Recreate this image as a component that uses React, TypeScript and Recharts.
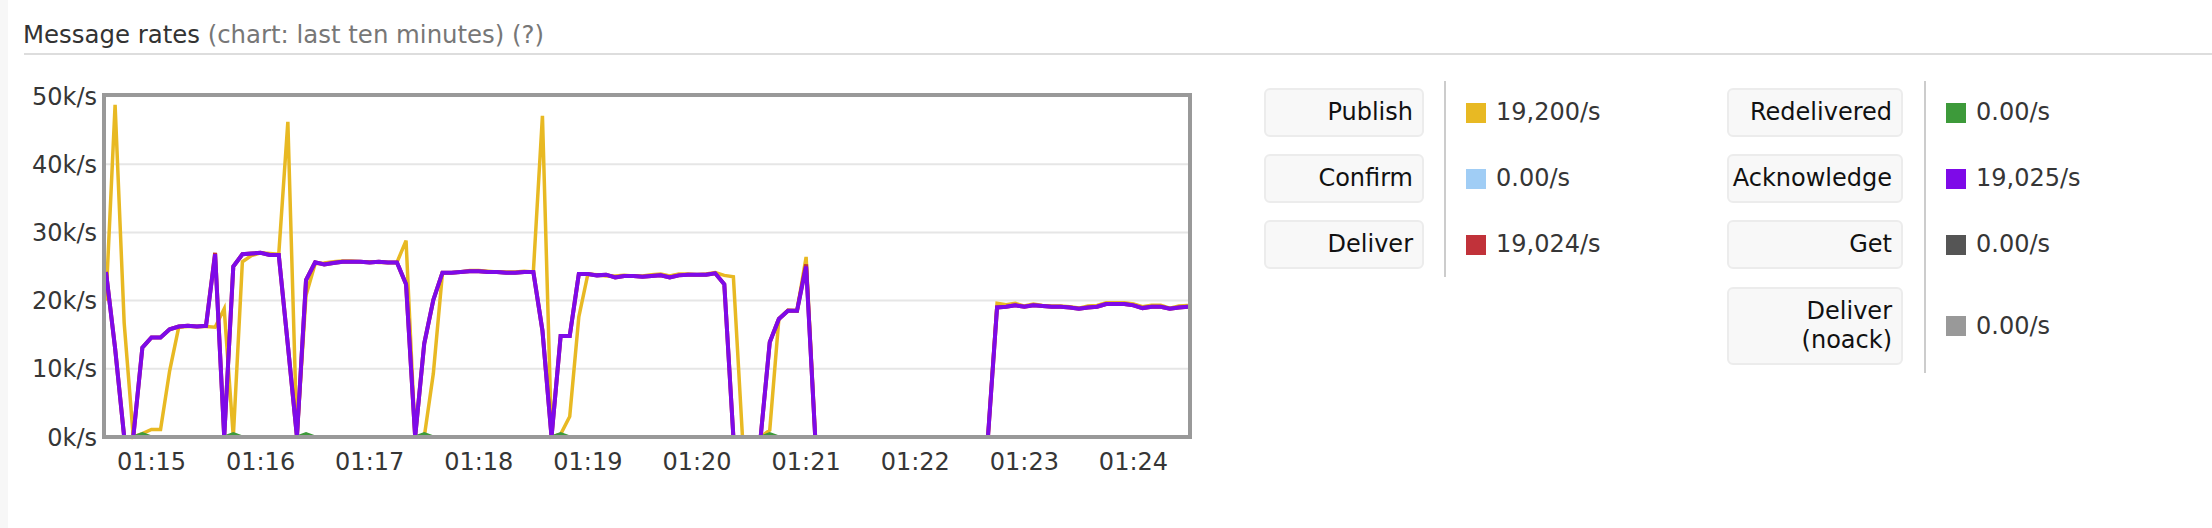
import { LineChart, Line, XAxis, YAxis, CartesianGrid } from 'recharts'

const FONT = '"DejaVu Sans", Verdana, sans-serif'

// sample times are seconds past 01:00, one sample every 5s (last ten minutes)
const START_SEC = 875
const STEP_SEC = 5

const xTickSeconds = [900, 960, 1020, 1080, 1140, 1200, 1260, 1320, 1380, 1440]
const xTickLabels = ['01:15', '01:16', '01:17', '01:18', '01:19', '01:20', '01:21', '01:22', '01:23', '01:24']
const yTicks = [0, 10, 20, 30, 40, 50] // k/s

// rates in k/s
const publishRates = [
    20.0, 48.7, 16.7, 0, 0.5, 1.1, 1.1, 9.7, 16.1, 16.2,
    16.2, 16.2, 16.1, 18.8, 0, 25.7, 26.6, 27.0, 26.9, 26.8,
    46.2, 0, 20.8, 25.4, 25.5, 25.7, 25.8, 25.8, 25.7, 25.7,
    25.6, 25.6, 25.6, 28.8, 0, 0, 9.3, 24.0, 24.1, 24.2,
    24.4, 24.4, 24.3, 24.2, 24.2, 24.2, 24.3, 24.2, 47.1, 0,
    0.4, 3.0, 17.6, 23.9, 23.8, 23.6, 23.6, 23.7, 23.6, 23.6,
    23.8, 23.9, 23.6, 23.9, 23.9, 23.8, 23.9, 24.1, 23.7, 23.5,
    0, 0, 0, 1.0, 17.3, 18.6, 18.5, 26.4, 0, 0,
    0, 0, 0, 0, 0, 0, 0, 0, 0, 0,
    0, 0, 0, 0, 0, 0, 0, 0, 19.6, 19.4,
    19.6, 19.2, 19.5, 19.3, 19.2, 19.2, 19.1, 18.9, 19.2, 19.3,
    19.7, 19.7, 19.7, 19.5, 19.1, 19.3, 19.3, 18.9, 19.2, 19.3,
]

const deliverRates = [
    24.2, 13.0, 0, 0, 13.1, 14.6, 14.6, 15.8, 16.2, 16.3,
    16.2, 16.3, 27.0, 0, 25.0, 26.8, 26.9, 27.0, 26.7, 26.7,
    13.5, 0, 23.0, 25.6, 25.3, 25.5, 25.7, 25.7, 25.7, 25.6,
    25.7, 25.6, 25.6, 22.4, 0, 13.7, 20.1, 24.1, 24.1, 24.2,
    24.3, 24.3, 24.2, 24.2, 24.1, 24.1, 24.2, 24.2, 15.6, 0,
    14.8, 14.8, 23.9, 23.9, 23.7, 23.8, 23.4, 23.6, 23.6, 23.5,
    23.6, 23.7, 23.4, 23.7, 23.8, 23.8, 23.8, 24.0, 22.4, 0,
    0, 0, 0, 13.9, 17.3, 18.5, 18.5, 25.3, 0, 0,
    0, 0, 0, 0, 0, 0, 0, 0, 0, 0,
    0, 0, 0, 0, 0, 0, 0, 0, 19.0, 19.1,
    19.3, 19.1, 19.3, 19.2, 19.1, 19.1, 19.0, 18.8, 19.0, 19.1,
    19.5, 19.5, 19.5, 19.3, 18.9, 19.1, 19.1, 18.8, 19.0, 19.1,
]

const ackRates = [
    24.2, 13.0, 0, 0, 13.1, 14.6, 14.6, 15.8, 16.2, 16.3,
    16.2, 16.3, 26.8, 0, 25.0, 26.8, 26.9, 27.0, 26.7, 26.7,
    13.5, 0, 23.0, 25.6, 25.3, 25.5, 25.7, 25.7, 25.7, 25.6,
    25.7, 25.6, 25.6, 22.4, 0, 13.7, 20.1, 24.1, 24.1, 24.2,
    24.3, 24.3, 24.2, 24.2, 24.1, 24.1, 24.2, 24.2, 15.6, 0,
    14.8, 14.8, 23.9, 23.9, 23.7, 23.8, 23.4, 23.6, 23.6, 23.5,
    23.6, 23.7, 23.4, 23.7, 23.8, 23.8, 23.8, 24.0, 22.4, 0,
    0, 0, 0, 13.9, 17.3, 18.5, 18.5, 25.0, 0, 0,
    0, 0, 0, 0, 0, 0, 0, 0, 0, 0,
    0, 0, 0, 0, 0, 0, 0, 0, 19.0, 19.1,
    19.3, 19.1, 19.3, 19.2, 19.1, 19.1, 19.0, 18.8, 19.0, 19.1,
    19.5, 19.5, 19.5, 19.3, 18.9, 19.1, 19.1, 18.8, 19.0, 19.1,
]

const redeliveredRates = [
    0, 0, 0, 0, 0.5, 0, 0, 0, 0, 0,
    0, 0, 0, 0, 0.5, 0, 0, 0, 0, 0,
    0, 0, 0.5, 0, 0, 0, 0, 0, 0, 0,
    0, 0, 0, 0, 0, 0.5, 0, 0, 0, 0,
    0, 0, 0, 0, 0, 0, 0, 0, 0, 0,
    0.5, 0, 0, 0, 0, 0, 0, 0, 0, 0,
    0, 0, 0, 0, 0, 0, 0, 0, 0, 0,
    0, 0, 0, 0.5, 0, 0, 0, 0, 0, 0,
    0, 0, 0, 0, 0, 0, 0, 0, 0, 0,
    0, 0, 0, 0, 0, 0, 0, 0, 0, 0,
    0, 0, 0, 0, 0, 0, 0, 0, 0, 0,
    0, 0, 0, 0, 0, 0, 0, 0, 0, 0,
]

// confirm, get and deliver (noack) stayed at zero the whole time
const idleRates = [
    0, 0, 0, 0, 0, 0, 0, 0, 0, 0, 0, 0, 0, 0, 0, 0, 0, 0, 0, 0,
    0, 0, 0, 0, 0, 0, 0, 0, 0, 0, 0, 0, 0, 0, 0, 0, 0, 0, 0, 0,
    0, 0, 0, 0, 0, 0, 0, 0, 0, 0, 0, 0, 0, 0, 0, 0, 0, 0, 0, 0,
    0, 0, 0, 0, 0, 0, 0, 0, 0, 0, 0, 0, 0, 0, 0, 0, 0, 0, 0, 0,
    0, 0, 0, 0, 0, 0, 0, 0, 0, 0, 0, 0, 0, 0, 0, 0, 0, 0, 0, 0,
    0, 0, 0, 0, 0, 0, 0, 0, 0, 0, 0, 0, 0, 0, 0, 0, 0, 0, 0, 0,
]

const leftNames = ['Publish', 'Confirm', 'Deliver']
const leftValues = ['19,200/s', '0.00/s', '19,024/s']
const leftColors = ['#e8b923', '#a0cdf5', '#c1323a']

const rightNames = ['Redelivered', 'Acknowledge', 'Get', 'Deliver\n(noack)']
const rightValues = ['0.00/s', '19,025/s', '0.00/s', '0.00/s']
const rightColors = ['#3d9a3a', '#7e0ae8', '#555555', '#999999']

const rows = publishRates.map((p, i) => ({
    t: START_SEC + i * STEP_SEC,
    publish: p,
    confirm: idleRates[i],
    deliver: deliverRates[i],
    redelivered: redeliveredRates[i],
    ack: ackRates[i],
    get: idleRates[i],
    noack: idleRates[i],
}))

const tickStyle = { fontFamily: FONT, fontSize: 24, fill: '#363636' }

function LegendColumn({ names, values, colors, left, width, sepLeft, sepHeight, tops, heights }: any) {
    return (
        <>
            {names.map((name: string, i: number) => (
                <div key={name} style={{
                    position: 'absolute', left, top: tops[i], width, height: heights[i],
                    boxSizing: 'border-box', background: '#f8f8f8', border: '2px solid #ececec',
                    borderRadius: 6, display: 'flex', alignItems: 'center', justifyContent: 'flex-end',
                    paddingRight: 9, textAlign: 'right', whiteSpace: 'pre-line',
                    lineHeight: '29px', color: '#111',
                }}>{name}</div>
            ))}
            <div style={{ position: 'absolute', left: sepLeft, top: 81, width: 2, height: sepHeight, background: '#cccccc' }} />
            {values.map((v: string, i: number) => (
                <div key={i}>
                    <div style={{
                        position: 'absolute', left: sepLeft + 22, top: tops[i] + heights[i] / 2 - 10,
                        width: 20, height: 20, background: colors[i],
                    }} />
                    <div style={{
                        position: 'absolute', left: sepLeft + 52, top: tops[i], height: heights[i],
                        lineHeight: `${heights[i]}px`, color: '#363636',
                    }}>{v}</div>
                </div>
            ))}
        </>
    )
}

export default function App() {
    return (
        <div style={{
            position: 'absolute', left: 0, top: 0, width: 2212, height: 528,
            background: '#fff', overflow: 'hidden', fontFamily: FONT, fontSize: 24,
        }}>
            <div style={{ position: 'absolute', left: 0, top: 0, width: 8, height: 528, background: '#f7f7f7' }} />

            <div style={{ position: 'absolute', left: 23, top: 20, lineHeight: '30px', fontSize: 24.4, whiteSpace: 'nowrap', color: '#333' }}>
                Message rates <span style={{ color: '#777' }}>(chart: last ten minutes) (?)</span>
            </div>
            <div style={{ position: 'absolute', left: 24, top: 53, width: 2188, height: 2, background: '#dddddd' }} />

            <div style={{ position: 'absolute', left: 0, top: 0 }}>
                <LineChart width={1230} height={500} data={rows}
                    margin={{ top: 96, right: 42, bottom: 23, left: 0 }}>
                    <CartesianGrid horizontal={true} vertical={false} stroke="#e6e6e6" strokeWidth={2} />
                    <XAxis
                        dataKey="t" type="number" domain={[START_SEC, 1470]}
                        ticks={xTickSeconds} height={40}
                        tickFormatter={(v: number) => xTickLabels[xTickSeconds.indexOf(v)]}
                        axisLine={false} tickLine={false} tickSize={6} tickMargin={10}
                        tick={tickStyle} interval={0}
                    />
                    <YAxis
                        type="number" domain={[0, 50]} ticks={yTicks} width={106}
                        tickFormatter={(v: number) => `${v}k/s`}
                        axisLine={false} tickLine={false} tickSize={6} tickMargin={3}
                        tick={tickStyle} interval={0}
                    />
                    <Line dataKey="publish" stroke={leftColors[0]} strokeWidth={3.5} dot={false} isAnimationActive={false} type="linear" />
                    <Line dataKey="confirm" stroke={leftColors[1]} strokeWidth={3} dot={false} isAnimationActive={false} type="linear" />
                    <Line dataKey="deliver" stroke={leftColors[2]} strokeWidth={4} dot={false} isAnimationActive={false} type="linear" />
                    <Line dataKey="redelivered" stroke={rightColors[0]} strokeWidth={3} dot={false} isAnimationActive={false} type="linear" />
                    <Line dataKey="ack" stroke={rightColors[1]} strokeWidth={4} dot={false} isAnimationActive={false} type="linear" />
                    <Line dataKey="get" stroke={rightColors[2]} strokeWidth={3} dot={false} isAnimationActive={false} type="linear" />
                    <Line dataKey="noack" stroke={rightColors[3]} strokeWidth={3} dot={false} isAnimationActive={false} type="linear" />
                </LineChart>
            </div>

            {/* plot frame, drawn over the lines like the original */}
            <div style={{
                position: 'absolute', left: 102, top: 93, width: 1090, height: 346,
                boxSizing: 'border-box', border: '4px solid #999999', pointerEvents: 'none',
            }} />

            <LegendColumn names={leftNames} values={leftValues} colors={leftColors}
                left={1264} width={160} sepLeft={1444} sepHeight={196}
                tops={[88, 154, 220]} heights={[49, 49, 49]} />
            <LegendColumn names={rightNames} values={rightValues} colors={rightColors}
                left={1727} width={176} sepLeft={1924} sepHeight={292}
                tops={[88, 154, 220, 287]} heights={[49, 49, 49, 78]} />
        </div>
    )
}
